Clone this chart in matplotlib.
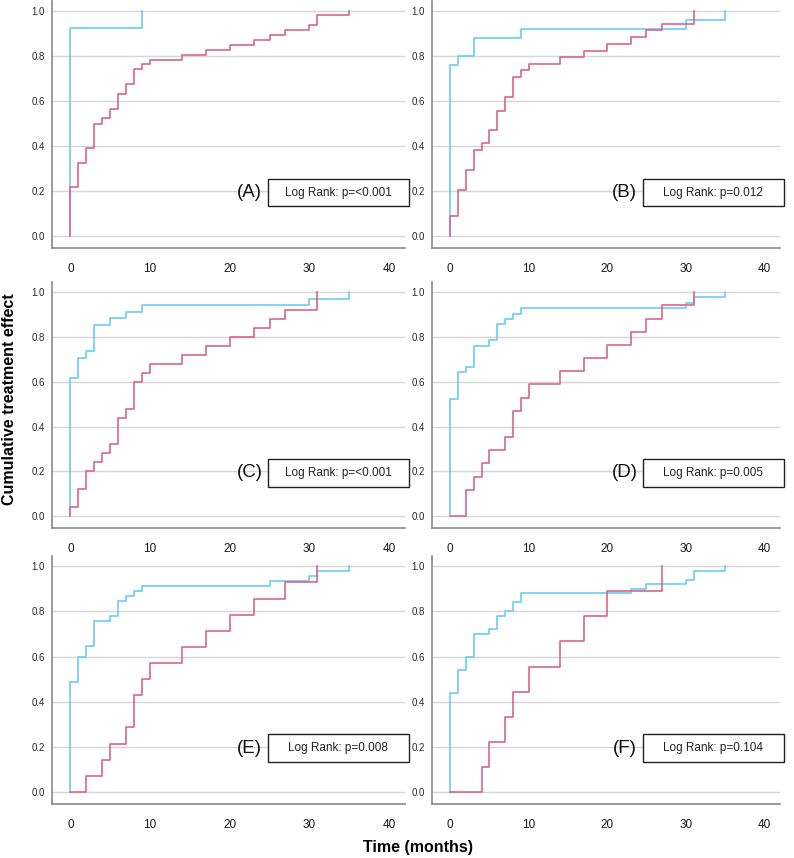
import matplotlib
matplotlib.use("Agg")
import matplotlib.pyplot as plt
from matplotlib.patches import Rectangle

plt.rcParams['font.family'] = ['Liberation Sans', 'DejaVu Sans']

# colours of the two groups
CYAN = '#6CCDF4'
PINK = '#D8668E'

# panel letters and log rank results
letters = ['(A)', '(B)', '(C)', '(D)', '(E)', '(F)']
pvalues = ['Log Rank: p=<0.001', 'Log Rank: p=0.012', 'Log Rank: p=<0.001',
           'Log Rank: p=0.005', 'Log Rank: p=0.008', 'Log Rank: p=0.104']

# (A)
a_cyan_t = [0, 0, 9]
a_cyan_y = [0, 0.923, 1.0]
a_pink_t = [0, 0, 1, 2, 3, 4, 5, 6, 7, 8, 9, 10, 14, 17, 20, 23, 25, 27, 30, 31, 35]
a_pink_y = [0, 0.216, 0.326, 0.393, 0.500, 0.523, 0.566, 0.630, 0.676, 0.741, 0.763,
            0.782, 0.806, 0.827, 0.847, 0.870, 0.893, 0.914, 0.938, 0.981, 1.0]

# (B)
b_cyan_t = [0, 0, 1, 3, 9, 30, 35]
b_cyan_y = [0, 0.759, 0.800, 0.880, 0.920, 0.960, 1.0]
b_pink_t = [0, 0, 1, 2, 3, 4, 5, 6, 7, 8, 9, 10, 14, 17, 20, 23, 25, 27, 31]
b_pink_y = [0, 0.088, 0.205, 0.295, 0.382, 0.412, 0.470, 0.558, 0.618, 0.707, 0.737,
            0.764, 0.794, 0.824, 0.854, 0.884, 0.914, 0.941, 1.0]

# (C)
c_cyan_t = [0, 0, 1, 2, 3, 5, 7, 9, 30, 35]
c_cyan_y = [0, 0.618, 0.708, 0.738, 0.854, 0.885, 0.911, 0.943, 0.971, 1.0]
c_pink_t = [0, 0, 1, 2, 3, 4, 5, 6, 7, 8, 9, 10, 14, 17, 20, 23, 25, 27, 31]
c_pink_y = [0, 0.040, 0.120, 0.200, 0.240, 0.280, 0.320, 0.440, 0.480, 0.600, 0.640,
            0.680, 0.720, 0.760, 0.800, 0.840, 0.880, 0.920, 1.0]

# (D)
d_cyan_t = [0, 0, 1, 2, 3, 5, 6, 7, 8, 9, 30, 31, 35]
d_cyan_y = [0, 0.525, 0.644, 0.667, 0.761, 0.786, 0.858, 0.880, 0.904, 0.929, 0.952,
            0.976, 1.0]
d_pink_t = [0, 2, 3, 4, 5, 7, 8, 9, 10, 14, 17, 20, 23, 25, 27, 31]
d_pink_y = [0, 0.118, 0.176, 0.235, 0.294, 0.353, 0.471, 0.529, 0.588, 0.647, 0.706,
            0.765, 0.824, 0.882, 0.941, 1.0]

# (E)
e_cyan_t = [0, 0, 1, 2, 3, 5, 6, 7, 8, 9, 25, 30, 31, 35]
e_cyan_y = [0, 0.488, 0.600, 0.645, 0.756, 0.778, 0.845, 0.867, 0.889, 0.911, 0.933,
            0.956, 0.978, 1.0]
e_pink_t = [0, 2, 4, 5, 7, 8, 9, 10, 14, 17, 20, 23, 27, 31]
e_pink_y = [0, 0.071, 0.143, 0.214, 0.286, 0.429, 0.500, 0.571, 0.643, 0.714, 0.786,
            0.857, 0.929, 1.0]

# (F)
f_cyan_t = [0, 0, 1, 2, 3, 5, 6, 7, 8, 9, 23, 25, 30, 31, 35]
f_cyan_y = [0, 0.440, 0.540, 0.600, 0.700, 0.720, 0.780, 0.800, 0.840, 0.880, 0.900,
            0.920, 0.940, 0.980, 1.0]
f_pink_t = [0, 4, 5, 7, 8, 10, 14, 17, 20, 27]
f_pink_y = [0, 0.111, 0.222, 0.333, 0.444, 0.556, 0.667, 0.778, 0.889, 1.0]

curves = [
  (a_cyan_t, a_cyan_y, a_pink_t, a_pink_y),
  (b_cyan_t, b_cyan_y, b_pink_t, b_pink_y),
  (c_cyan_t, c_cyan_y, c_pink_t, c_pink_y),
  (d_cyan_t, d_cyan_y, d_pink_t, d_pink_y),
  (e_cyan_t, e_cyan_y, e_pink_t, e_pink_y),
  (f_cyan_t, f_cyan_y, f_pink_t, f_pink_y),
]

fig = plt.figure(figsize=(7.94, 8.58), dpi=100)

# axes rectangles, left column / right column, three rows
col_left = [0.0655, 0.5441]
col_width = [0.4446, 0.4383]
row_bottom = [0.7110, 0.3846, 0.0629]
row_height = [0.2879, 0.2867, 0.2890]
box_left = [0.612, 0.606]

for i, (ct, cy, pt, py) in enumerate(curves):
  row, col = i // 2, i % 2
  ax = fig.add_axes([col_left[col], row_bottom[row], col_width[col], row_height[row]])
  ax.set_xlim(-2.3, 42)
  ax.set_ylim(-0.053, 1.045)

  ax.set_yticks([0.0, 0.2, 0.4, 0.6, 0.8, 1.0])
  ax.set_yticklabels(['0.0', '0.2', '0.4', '0.6', '0.8', '1.0'])
  ax.set_xticks([0, 10, 20, 30, 40])
  ax.tick_params(axis='y', length=0, pad=5, labelsize=7, labelcolor='#2a2a2a')
  ax.tick_params(axis='x', length=0, pad=11, labelsize=8.5, labelcolor='#1a1a1a')
  ax.grid(axis='y', color='#d6d6d6', linewidth=1.0)
  ax.set_axisbelow(True)

  for s in ['top', 'right']:
    ax.spines[s].set_visible(False)
  for s in ['left', 'bottom']:
    ax.spines[s].set_color('#8a8a8a')
    ax.spines[s].set_linewidth(1.2)

  ax.step(ct, cy, where='post', color=CYAN, linewidth=1.2)
  ax.step(pt, py, where='post', color=PINK, linewidth=1.2)

  # log rank box and panel letter
  bl = box_left[col]
  ax.add_patch(Rectangle((bl, 0.168), 1.01 - bl, 0.113, transform=ax.transAxes,
                         facecolor='white', edgecolor='#222222', linewidth=1.0,
                         clip_on=False, zorder=5))
  ax.text((bl + 1.01) / 2, 0.2245, pvalues[i], transform=ax.transAxes,
          ha='center', va='center', fontsize=8.5, color='#222222', zorder=6)
  ax.text(bl - 0.052, 0.2245, letters[i], transform=ax.transAxes,
          ha='center', va='center', fontsize=13.5, color='#111111', zorder=6)

fig.text(0.0115, 0.535, 'Cumulative treatment effect', rotation=90,
         ha='center', va='center', fontsize=11.5, fontweight='bold')
fig.text(0.526, 0.0117, 'Time (months)', ha='center', va='center',
         fontsize=11.5, fontweight='bold')

fig.savefig('out.png', dpi=100)
